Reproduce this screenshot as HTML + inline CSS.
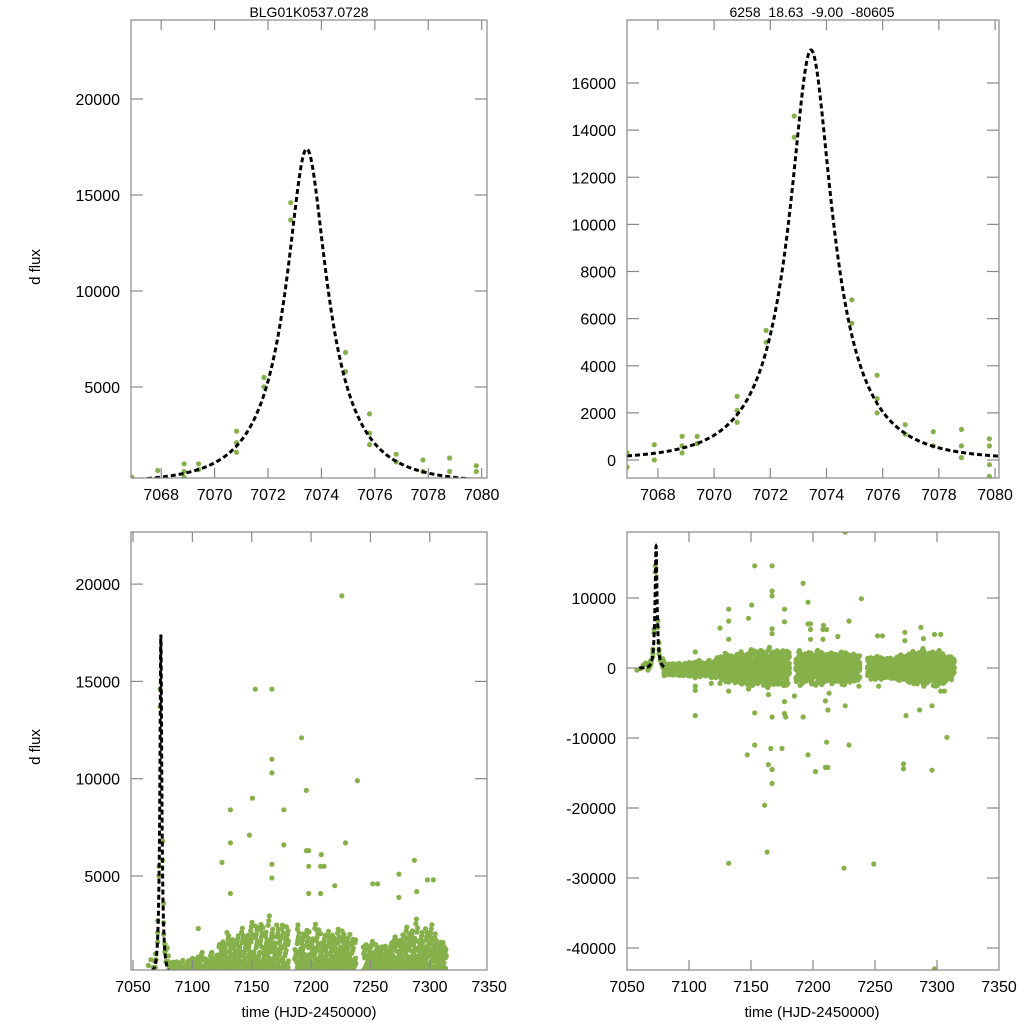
<!DOCTYPE html>
<html><head><meta charset="utf-8"><style>
html,body{margin:0;padding:0;background:#fff;overflow:hidden;width:1024px;height:1024px}
svg{display:block;font-family:"Liberation Sans",sans-serif}
</style></head><body>
<svg id="fig" width="1024" height="1024" viewBox="0 0 1024 1024" xmlns="http://www.w3.org/2000/svg">
<text x="309" y="17" font-size="14" text-anchor="middle">BLG01K0537.0728</text>
<text x="812" y="17" font-size="14" text-anchor="middle" xml:space="preserve">6258  18.63  -9.00  -80605</text>
<text x="0" y="0" transform="translate(40,267) rotate(-90)" font-size="15" text-anchor="middle">d flux</text>
<text x="0" y="0" transform="translate(40,747) rotate(-90)" font-size="15" text-anchor="middle">d flux</text>
<text x="309" y="1017" font-size="15" text-anchor="middle">time (HJD-2450000)</text>
<text x="812" y="1017" font-size="15" text-anchor="middle">time (HJD-2450000)</text>
</svg>
<script>
// Event (zoomed) photometry
const eventT = [7066.9,7066.9,7067.87,7067.87,7068.86,7068.86,7068.86,7069.4,7069.4,7070.82,7070.82,7070.82,7071.85,7071.85,7072.85,7072.85,7074.9,7074.9,7075.8,7075.8,7075.8,7076.8,7076.8,7077.8,7077.8,7078.8,7078.8,7078.8,7079.8,7079.8,7079.8,7079.8,7058,7061,7063,7065];
const eventF = [300,-300,650,0,1000,300,600,1000,700,2700,2100,1600,5500,5000,14600,13700,6800,5800,3600,2600,2000,1500,1100,1200,600,1300,600,100,900,600,-200,-700,-300,-100,400,700];
// Outliers
const outT = [7153,7167,7167,7167,7192,7196,7239,7150.6,7132,7132,7148,7177,7177,7125,7229,7196,7198,7208.5,7198,7208,7211,7167,7167,7252,7256,7274,7287,7298,7303,7132,7198,7208,7220,7274,7289,7105,
7105,7105,7105,7105,7118,7125,7132,7132,7143,7148,7151,7153,7164,7164,7167,7167,7167,7166,7147,7153,7175,7177,7178,7177,7185,7192,7196,7202,7210,7212,7211,7212,7210,7213,7226,7229,7237,7253,7275,7286,7273,7273,7296,7296,7299,7303,7306,7308,7132,7163,7161,7225,7249,7298,7226];
const outF = [14600,14600,11000,10300,12100,9400,9900,9000,8400,6700,7100,8400,6600,5700,6700,6300,6300,6100,5500,5500,5500,5600,4900,4600,4600,5100,5800,4800,4800,4100,4100,4100,4500,3900,4200,2300,
-1400,-2600,-3200,-6800,-2200,-2200,-2000,-3300,-2000,-3000,-2500,-6400,-3800,-13800,-7000,-14500,-16500,-11500,-12400,-11000,-11500,-6500,-7000,-4800,-4000,-7000,-12400,-14800,-14200,-14200,-10600,-6000,-4700,-3600,-5400,-11000,-2600,-2600,-6800,-6000,-13700,-14400,-14600,-5400,-2600,-3300,-3300,-9900,-27900,-26300,-19600,-28600,-28000,-43000,19400];
// Nightly baseline band: time, centre, half-spread
const bandT = [7081,7082,7084,7086,7088,7090,7092,7094,7096,7098,7100,
7102,7104,7106,7108,7110,7112,7114,7116,7118,7120,
7122,7124,7126,7128,7130,7132,7134,7136,7138,7140,
7142,7144,7146,7148,7150,7152,7154,7156,7158,7160,
7162,7164,7166,7168,7170,7172,7174,7176,7178,7180,
7187,7189,7191,7193,7195,7197,7199,7201,7203,7205,7207,7209,7211,7213,7215,7217,7219,7221,7223,7225,7227,7229,7231,7233,7235,7237,
7245,7247,7249,7251,7253,7255,7257,7259,7261,7263,7265,7267,7269,7271,7273,7275,7277,7279,7281,7283,7285,7287,7289,7291,7293,7295,7297,7299,7301,7303,7305,7307,7309,7311,7313];
const bandMid = [-200,-200,-200,-200,-200,-200,-200,-200,-200,-200,-200,
-100,-100,-100,-100,-100,-100,-100,-100,-100,-100,
0,0,0,0,0,0,0,0,0,0,0,0,0,0,0,0,0,0,0,0,0,0,0,0,0,0,0,0,0,0,
0,0,0,0,0,0,0,0,0,0,0,0,0,0,0,0,0,0,0,0,0,0,0,0,0,0,
0,0,0,0,0,0,0,0,0,0,0,0,0,0,0,0,0,0,0,0,0,0,0,0,0,0,0,0,0,0,0,0,0,0,0];
const bandSpread = [900,700,800,900,800,700,900,800,900,800,1000,
1200,1000,1100,1200,1000,900,1100,1200,1300,1200,
1500,1600,1700,1900,2100,2000,1800,1900,2100,2200,
2400,2200,2100,2500,2700,2300,2600,2400,2800,2500,
2700,3000,2600,2400,2200,2500,2800,2600,2900,2400,
2200,2600,2400,2200,2000,2500,2300,2100,2600,2800,2400,2200,2000,2100,2300,2200,2000,2100,2400,2600,2200,2100,1900,2000,2100,1800,
1700,1600,1800,1700,1500,1600,1700,1400,1600,1500,1700,1600,1800,2000,1700,1900,2100,2200,2400,2700,2300,2500,2800,2400,2200,2100,2500,2900,2600,2400,2200,2000,1800,1700,1600];
const bandPerNight = 26;
// Microlensing model parameters
const modelT0 = 7073.45, modelU0 = 0.3, modelTE = 2.45, modelPeak = 17400;
// Panel tick labels
const tlXTicks = [7068,7070,7072,7074,7076,7078,7080];
const tlYTicks = [5000,10000,15000,20000];
const trYTicks = [0,2000,4000,6000,8000,10000,12000,14000,16000];
const blXTicks = [7050,7100,7150,7200,7250,7300,7350];
const blYTicks = [5000,10000,15000,20000];
const brYTicks = [-40000,-30000,-20000,-10000,0,10000];

const NS = "http://www.w3.org/2000/svg";
const svg = document.getElementById('fig');
function mk(tag, attrs, parent){const e=document.createElementNS(NS,tag);for(const k in attrs)e.setAttribute(k,attrs[k]);(parent||svg).appendChild(e);return e;}
function amp(u){return (u*u+2)/(u*Math.sqrt(u*u+4));}
const aPeak = amp(modelU0)-1;
function model(t){const tau=(t-modelT0)/modelTE;const u=Math.sqrt(modelU0*modelU0+tau*tau);return modelPeak*(amp(u)-1)/aPeak;}

function eventPoints(){const pts=[];for(let i=0;i<eventT.length;i++)pts.push([eventT[i],eventF[i]]);return pts;}
function allPoints(){
  const pts=eventPoints();
  for(let i=0;i<bandT.length;i++)for(let j=0;j<bandPerNight;j++){
    // deterministic spread of points within the night's band
    const a=((i*0.6180339+j*0.7548777)%1)*2-1;
    const b=((i*0.4142136+j*0.5698403)%1)*2-1;
    const frac=Math.sign(a)*Math.pow(Math.abs(a),2.2);
    pts.push([bandT[i]+b*1.0,bandMid[i]+frac*bandSpread[i]]);
  }
  for(let i=0;i<outT.length;i++)pts.push([outT[i],outF[i]]);
  return pts;
}
const EV = eventPoints();
const PTS = allPoints();

function panel(cfg){
  const g=mk('g',{});
  
  
  const sx=t=>cfg.x0+(t-cfg.tmin)/(cfg.tmax-cfg.tmin)*(cfg.x1-cfg.x0);
  const sy=f=>cfg.y1-(f-cfg.fmin)/(cfg.fmax-cfg.fmin)*(cfg.y1-cfg.y0);
  const clipId='clip-'+cfg.name;
  const defs=mk('defs',{},g);
  const cp=mk('clipPath',{id:clipId},defs);
  mk('rect',{x:cfg.x0,y:cfg.y0,width:cfg.x1-cfg.x0,height:cfg.y1-cfg.y0},cp);
  const pg=mk('g',{'clip-path':'url(#'+clipId+')'},g);
  
  
  const pts=cfg.wide?PTS:EV;
  for(const p of pts){
    if(p[0]<cfg.tmin-1||p[0]>cfg.tmax+1)continue;
    const c=mk('circle',{cx:sx(p[0]).toFixed(1),cy:sy(p[1]).toFixed(1),r:2.6,fill:'#86b04a'},pg);
    
    
  }
  let d='';const n=1200;
  for(let i=0;i<=n;i++){
    let t;
    if(cfg.wide){t=7060+i*(20/n);}else{t=cfg.tmin+i*(cfg.tmax-cfg.tmin)/n;}
    d+=(i?'L':'M')+sx(t).toFixed(2)+','+sy(model(t)).toFixed(2);
  }
  const path=mk('path',{d:d,fill:'none',stroke:'#000','stroke-width':3,'stroke-dasharray':'5,3'},pg);
  
  
  const fr=mk('rect',{x:cfg.x0,y:cfg.y0,width:cfg.x1-cfg.x0,height:cfg.y1-cfg.y0,fill:'none',stroke:'#888','stroke-width':1.2},g);
  
  
  for(const t of cfg.xt){
    const x=sx(t);
    if(x<cfg.x0-3||x>cfg.x1+3)continue;
    if(x>cfg.x0+1&&x<cfg.x1-1){
      mk('line',{x1:x,y1:cfg.y1,x2:x,y2:cfg.y1-10,stroke:'#888','stroke-width':1.2},g);
      mk('line',{x1:x,y1:cfg.y0,x2:x,y2:cfg.y0+10,stroke:'#888','stroke-width':1.2},g);
    }
    const tx=mk('text',{x:x,y:cfg.y1+22,'font-size':16,'text-anchor':'middle'},g);
    tx.textContent=t;
    
    
  }
  for(const f of cfg.yt){
    const y=sy(f);
    mk('line',{x1:cfg.x0,y1:y,x2:cfg.x0+12,y2:y,stroke:'#888','stroke-width':1.2},g);
    mk('line',{x1:cfg.x1,y1:y,x2:cfg.x1-12,y2:y,stroke:'#888','stroke-width':1.2},g);
    const ty=mk('text',{x:cfg.x0-11,y:y+6,'font-size':16,'text-anchor':'end'},g);
    ty.textContent=f;
    
    
  }
}
panel({name:'top-left-panel',x0:131,x1:487,y0:20,y1:478,tmin:7066.87,tmax:7080.2,fmin:260,fmax:24115,xt:tlXTicks,yt:tlYTicks});
panel({name:'top-right-panel',x0:627,x1:999,y0:20,y1:478,tmin:7066.9,tmax:7080.14,fmin:-764,fmax:18674,xt:tlXTicks,yt:trYTicks});
panel({name:'bottom-left-panel',x0:131,x1:487,y0:532,y1:970,tmin:7048.3,tmax:7348.2,fmin:170,fmax:22677,xt:blXTicks,yt:blYTicks,wide:true});
panel({name:'bottom-right-panel',x0:627,x1:999,y0:532,y1:970,tmin:7050,tmax:7350,fmin:-43143,fmax:19429,xt:blXTicks,yt:brYTicks,wide:true});
</script>
</body></html>
